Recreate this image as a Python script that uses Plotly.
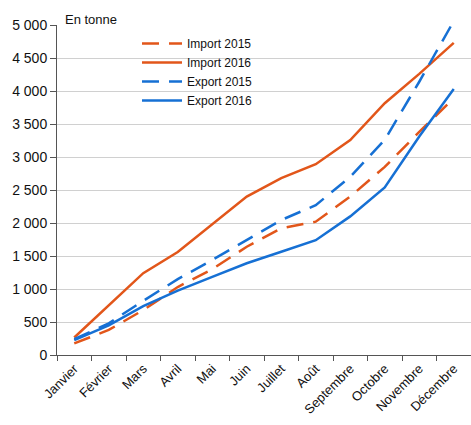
import plotly.graph_objects as go

months = ["Janvier", "Février", "Mars", "Avril", "Mai", "Juin", "Juillet",
          "Août", "Septembre", "Octobre", "Novembre", "Décembre"]
import_2015 = [175, 380, 680, 1030, 1300, 1640, 1920, 2020, 2400, 2850, 3380, 3890]
import_2016 = [265, 750, 1240, 1560, 1985, 2400, 2680, 2890, 3256, 3815, 4260, 4730]
export_2015 = [240, 480, 820, 1150, 1440, 1740, 2045, 2270, 2700, 3260, 4140, 5060]
export_2016 = [225, 450, 740, 975, 1185, 1390, 1565, 1740, 2100, 2540, 3310, 4030]

ORANGE = "#E2561A"
BLUE = "#1670D4"

fig = go.Figure()
series = [
    ("Import 2015", import_2015, ORANGE, "17px,10px"),
    ("Import 2016", import_2016, ORANGE, "solid"),
    ("Export 2015", export_2015, BLUE, "17px,10px"),
    ("Export 2016", export_2016, BLUE, "solid"),
]
for name, vals, col, dash in series:
    fig.add_trace(go.Scatter(x=months, y=vals, name=name, mode="lines",
                             line=dict(color=col, width=2.5, dash=dash)))

# white box behind legend hiding gridlines
fig.add_shape(type="rect", xref="paper", yref="paper", layer="between",
              x0=(70 - 57) / 414, x1=(318 - 57) / 414,
              y0=(355 - 102) / 330, y1=(355 - 30) / 330,
              fillcolor="white", line=dict(width=0))

fig.add_annotation(text="En tonne", xref="paper", yref="paper",
                   x=(63 - 57) / 414, y=1, xanchor="left", yanchor="bottom",
                   showarrow=False, yshift=-4,
                   font=dict(size=13, color="#111", family="Liberation Sans"))

fig.update_layout(
    width=471, height=425,
    margin=dict(l=57, r=0, t=25, b=70, autoexpand=False),
    paper_bgcolor="white", plot_bgcolor="white",
    separators=", ",
    font=dict(family="Liberation Sans", size=13, color="#111"),
    showlegend=True,
    legend=dict(x=(137 - 57) / 414, y=(355 - 29) / 330, xanchor="left", yanchor="top",
                bgcolor="rgba(255,255,255,0)", font=dict(size=12, color="#111"),
                tracegroupgap=0, itemwidth=40),
)
fig.update_xaxes(
    type="category", range=[-0.5, 11.5], tickson="boundaries",
    ticks="outside", ticklen=5, tickcolor="#555", automargin=False,
    showline=True, linecolor="#555", linewidth=1,
    showgrid=False, tickangle=-45, tickfont=dict(size=13, color="#111"),
)
fig.update_yaxes(
    range=[0, 5000], dtick=500, tickformat=",d", automargin=False,
    ticks="outside", ticklen=6, tickcolor="#555",
    showline=True, linecolor="#555", linewidth=1,
    showgrid=True, gridcolor="#D0D0D0", gridwidth=1,
    zeroline=False, tickfont=dict(size=14, color="#111"),
)

fig.write_html(
    "out.html",
    config={"displayModeBar": False},
    post_script="document.body.style.margin='0';document.body.style.overflow='hidden';",
)
